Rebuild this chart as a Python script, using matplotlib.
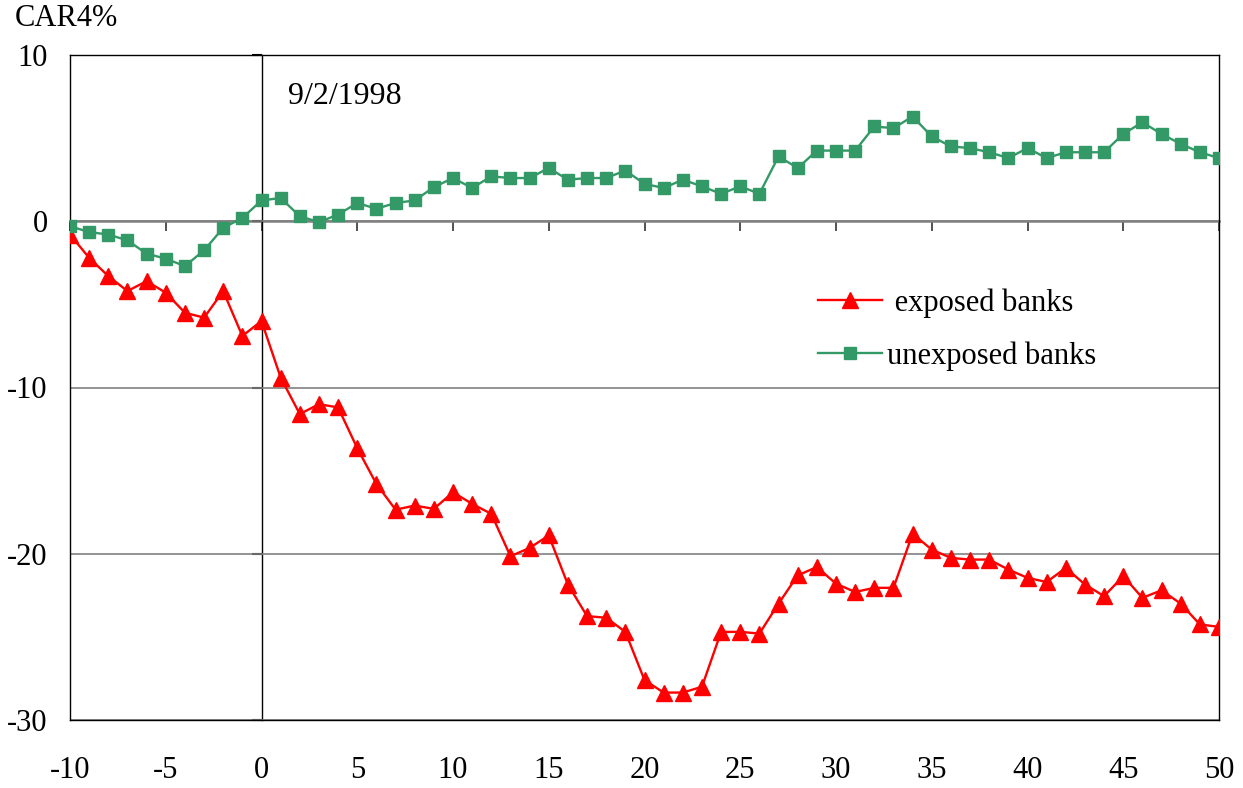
import matplotlib
matplotlib.use("Agg")
import matplotlib.pyplot as plt
import numpy as np

# event days
days = list(range(-10, 51))

exposed = [-0.8, -2.2, -3.3, -4.2, -3.6, -4.3, -5.5, -5.8, -4.2, -6.9,
           -6.0, -9.4, -11.6, -11.0, -11.2, -13.65, -15.8, -17.35, -17.1, -17.3,
           -16.3, -17.0, -17.6, -20.15, -19.65, -18.9, -21.85, -23.75, -23.85, -24.7,
           -27.6, -28.35, -28.35, -28.0, -24.7, -24.7, -24.8, -23.0, -21.3, -20.8,
           -21.8, -22.3, -22.05, -22.05, -18.8, -19.75, -20.25, -20.35, -20.35, -20.95,
           -21.45, -21.7, -20.85, -21.85, -22.55, -21.35, -22.65, -22.2, -23.0, -24.25,
           -24.4]

unexposed = [-0.3, -0.65, -0.8, -1.15, -1.95, -2.25, -2.7, -1.75, -0.4, 0.2,
             1.25, 1.4, 0.3, -0.05, 0.4, 1.1, 0.75, 1.1, 1.25, 2.05,
             2.6, 2.0, 2.7, 2.6, 2.6, 3.2, 2.5, 2.6, 2.6, 3.05,
             2.25, 2.0, 2.5, 2.1, 1.65, 2.1, 1.65, 3.9, 3.2, 4.25,
             4.25, 4.25, 5.7, 5.6, 6.3, 5.1, 4.5, 4.4, 4.15, 3.8,
             4.4, 3.8, 4.15, 4.15, 4.15, 5.25, 5.95, 5.25, 4.65, 4.15,
             3.8]

x_ticks = list(range(-10, 51, 5))
y_ticks = [10, 0, -10, -20, -30]

plt.rcParams['font.family'] = ['Liberation Serif', 'DejaVu Serif']
plt.rcParams['axes.unicode_minus'] = False

fig = plt.figure(figsize=(12.43, 7.88), dpi=100)
ax = fig.add_axes([70 / 1243, 1 - 720 / 788, 1149 / 1243, 665 / 788])

ax.plot(days, exposed, color='#FF0000', lw=1.7, marker='^', ms=11.5,
        label=' exposed banks', zorder=4)
ax.plot(days, unexposed, color='#339966', lw=1.7, marker='s', ms=9,
        label='unexposed banks', zorder=4)

ax.set_xlim(-10, 50)
ax.set_ylim(-30, 10)
ax.set_xticks(x_ticks)
ax.set_yticks(y_ticks)
ax.tick_params(axis='both', length=0, labelsize=22)
ax.tick_params(axis='x', pad=26)
ax.tick_params(axis='y', pad=16)
ax.yaxis.grid(True, color='#808080', lw=1.2)
ax.set_axisbelow(True)
for s in ax.spines.values():
    s.set_color('black')
    s.set_linewidth(1.0)

# axis lines crossing at the origin, with their own tick marks
sx = ax.secondary_xaxis(0, transform=ax.transData)
sx.set_xticks(x_ticks)
sx.set_xticklabels([])
sx.tick_params(length=7, width=1.2, color='#333333')
sx.spines['bottom'].set_color('#808080')
sx.spines['bottom'].set_linewidth(1.8)

sy = ax.secondary_yaxis(0, transform=ax.transData)
sy.set_yticks(y_ticks)
sy.set_yticklabels([])
sy.tick_params(length=7, width=1.5, color='black')
sy.spines['left'].set_color('black')
sy.spines['left'].set_linewidth(1.0)

ax.text(0.19, 0.938, '9/2/1998', transform=ax.transAxes, fontsize=23,
        va='center', ha='left')
fig.text(15 / 1243, 1 - 18 / 788, 'CAR4%', fontsize=22, va='center', ha='left')

ax.legend(loc='upper left', bbox_to_anchor=(0.627, 0.69), frameon=False,
          fontsize=22, handlelength=2.1, labelspacing=0.75, handletextpad=0.15)

fig.savefig('out.png', dpi=100)
